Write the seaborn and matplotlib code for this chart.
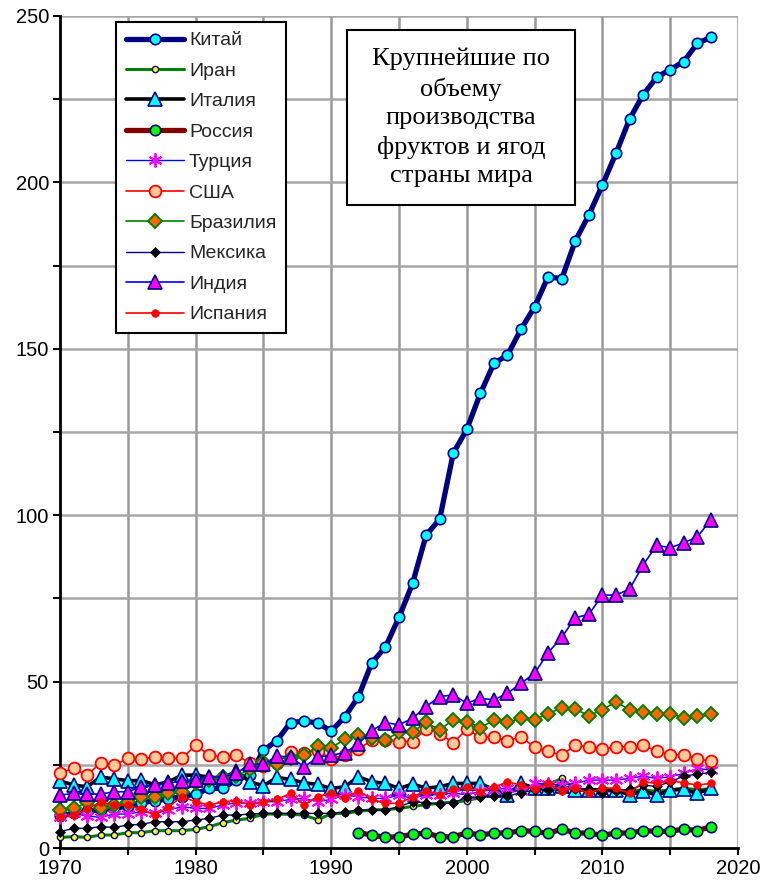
import numpy as np
import pandas as pd
import matplotlib
matplotlib.use("Agg")
import matplotlib.pyplot as plt
from matplotlib.patches import Rectangle
import seaborn as sns

years = list(range(1970, 2019))

china = [9.5, 10.5, 11.0, 11.5, 12.0, 12.5, 13.6, 14.2, 14.8, 15.4,
         16.2, 17.9, 17.9, 20.5, 21.9, 29.3, 32.3, 37.7, 38.1, 37.6,
         35.1, 39.4, 45.4, 55.7, 60.4, 69.3, 79.5, 94.0, 98.8, 118.6,
         125.8, 136.6, 145.6, 148.1, 155.9, 162.6, 171.7, 171.0, 182.4, 190.2,
         199.2, 208.7, 219.0, 226.3, 231.6, 233.9, 236.3, 241.8, 243.6]
iran = [3.2, 3.4, 3.2, 3.9, 3.9, 4.6, 4.6, 5.2, 5.2, 5.2,
        5.6, 6.4, 7.6, 8.4, 8.9, 10.2, 10.2, 10.1, 9.9, 8.5,
        10.3, 10.4, 11.0, 11.5, 11.5, 11.9, 12.5, 13.0, 13.5, 13.8,
        14.2, 15.2, 16.0, 16.8, 17.5, 18.5, 19.0, 20.9, 17.5, 17.2,
        17.5, 17.5, 17.0, 17.5, 17.0, 17.5, 18.0, 17.5, 17.8]
italy = [20.2, 18.9, 18.4, 21.3, 20.8, 20.2, 20.3, 19.0, 19.9, 21.9,
         21.9, 21.3, 21.0, 23.1, 19.9, 18.7, 21.2, 20.6, 19.6, 19.1,
         17.9, 18.4, 21.4, 19.9, 19.4, 17.9, 19.2, 18.0, 18.4, 19.4,
         19.4, 19.4, 17.5, 16.0, 19.4, 18.0, 18.0, 18.5, 17.5, 17.5,
         17.5, 17.5, 15.9, 17.1, 15.9, 17.4, 17.6, 16.4, 17.9]
russia = [np.nan] * 22 + [
          4.6, 3.9, 3.2, 3.4, 4.1, 4.5, 3.4, 3.3,
          4.6, 3.9, 4.5, 4.5, 5.2, 5.0, 4.4, 5.7, 4.5, 4.5,
          3.8, 4.5, 4.5, 5.2, 5.0, 5.0, 5.7, 5.2, 6.4]
turkey = [9.4, 10.4, 9.6, 9.2, 10.2, 10.2, 10.9, 10.4, 11.4, 12.4,
          11.9, 11.9, 12.9, 13.6, 13.4, 13.9, 13.9, 14.6, 14.9, 13.9,
          14.6, 15.9, 15.4, 14.9, 14.9, 15.9, 14.9, 16.0, 16.0, 16.5,
          16.0, 17.0, 17.5, 18.0, 17.0, 19.4, 19.2, 19.0, 19.4, 20.4,
          20.4, 20.4, 20.9, 21.6, 20.9, 21.4, 22.4, 23.9, 23.4]
usa = [22.6, 23.9, 21.9, 25.6, 24.9, 26.9, 26.7, 27.4, 26.9, 26.9,
       30.9, 27.9, 27.4, 27.8, 25.6, 24.6, 25.6, 28.8, 28.6, 29.2,
       26.8, 27.9, 29.7, 32.4, 32.5, 32.0, 32.0, 35.8, 34.4, 31.6,
       35.7, 33.3, 33.4, 32.1, 33.5, 30.2, 29.1, 27.8, 31.0, 30.3,
       29.8, 30.4, 30.4, 31.0, 29.0, 28.0, 28.0, 26.7, 26.1]
brazil = [11.4, 11.9, 13.7, 11.9, 12.9, 13.9, 15.4, 15.4, 16.6, 16.9,
          19.4, 20.4, 21.2, 21.6, 23.6, 25.9, 25.2, 27.0, 28.0, 30.5,
          30.1, 32.7, 33.9, 33.0, 32.5, 34.8, 34.8, 37.8, 35.4, 38.6,
          38.0, 36.1, 38.5, 37.8, 39.0, 38.5, 40.4, 42.1, 41.7, 39.8,
          41.5, 44.0, 41.5, 40.8, 40.3, 40.3, 39.2, 39.8, 40.3]
mexico = [4.9, 5.9, 5.9, 6.4, 6.2, 6.9, 7.1, 7.9, 7.9, 7.9,
          8.4, 8.9, 9.9, 9.9, 10.2, 10.4, 10.4, 10.4, 10.4, 10.4,
          10.4, 10.9, 11.4, 11.4, 11.4, 12.4, 13.9, 13.6, 13.2, 13.6,
          15.2, 15.4, 15.7, 15.6, 16.6, 17.4, 17.4, 17.4, 17.8, 17.6,
          16.6, 17.2, 17.6, 18.9, 18.5, 19.9, 21.6, 22.2, 22.7]
india = [15.9, 16.4, 16.2, 16.2, 16.9, 16.9, 18.4, 18.9, 19.4, 20.2,
         20.4, 21.4, 21.4, 22.4, 25.2, 25.2, 27.6, 27.4, 24.4, 27.2,
         27.9, 28.6, 31.3, 35.3, 37.7, 37.0, 39.0, 42.5, 45.5, 46.0,
         43.5, 45.0, 44.5, 46.5, 49.5, 52.5, 58.7, 63.3, 69.2, 70.2,
         76.0, 76.0, 77.8, 85.0, 91.0, 90.2, 91.7, 93.5, 98.6]
spain = [9.4, 9.9, 11.6, 13.9, 12.9, 12.9, 11.6, 9.9, 12.4, 15.4,
         13.9, 12.9, 13.9, 14.2, 12.9, 13.9, 14.6, 16.4, 12.9, 15.4,
         16.6, 14.9, 17.2, 14.6, 13.4, 13.4, 15.4, 17.1, 15.9, 17.6,
         18.2, 16.9, 18.2, 19.9, 18.9, 17.6, 19.4, 17.1, 18.1, 16.4,
         18.1, 17.9, 16.4, 19.9, 19.4, 20.2, 19.6, 18.9, 19.4]

countries = ["Китай", "Иран", "Италия", "Россия", "Турция",
             "США", "Бразилия", "Мексика", "Индия", "Испания"]
series = [china, iran, italy, russia, turkey, usa, brazil, mexico, india, spain]

note_lines = ["Крупнейшие по", "объему", "производства",
              "фруктов и ягод", "страны мира"]
x_ticks = [1970, 1980, 1990, 2000, 2010, 2020]
y_ticks = [0, 50, 100, 150, 200, 250]

df = pd.DataFrame({"year": years})
for name, vals in zip(countries, series):
    df[name] = vals
long = df.melt(id_vars="year", var_name="country", value_name="value")

styles = {
    "Китай":   dict(color="#000080", lw=3.8, marker="o", ms=7.5, mfc="#00FFFF", mec="#000080", mew=1.2),
    "Иран":    dict(color="#008000", lw=2.2, marker="o", ms=4.5, mfc="#FFFF00", mec="#000080", mew=1.0),
    "Италия":  dict(color="#000000", lw=2.6, marker="^", ms=9.5, mfc="#00FFFF", mec="#000080", mew=1.2),
    "Россия":  dict(color="#800000", lw=3.8, marker="o", ms=7.5, mfc="#00FF00", mec="#000080", mew=1.2),
    "Турция":  dict(color="#0000FF", lw=1.0, marker=(6, 2, 0), ms=10, mfc="#FF00FF", mec="#FF00FF", mew=1.4),
    "США":     dict(color="#FF0000", lw=1.2, marker="o", ms=8.5, mfc="#FFCC99", mec="#FF0000", mew=1.3),
    "Бразилия": dict(color="#008000", lw=1.2, marker="D", ms=7.5, mfc="#FF6600", mec="#008000", mew=1.4),
    "Мексика": dict(color="#000080", lw=1.0, marker="D", ms=5.5, mfc="#000000", mec="#000000", mew=0.5),
    "Индия":   dict(color="#0000FF", lw=1.2, marker="^", ms=9.5, mfc="#FF00FF", mec="#000080", mew=1.2),
    "Испания": dict(color="#FF0000", lw=1.2, marker="o", ms=5.5, mfc="#FF0000", mec="#FF0000", mew=0.5),
}

sns.set_theme(style="white")
plt.rcParams["font.family"] = ["Liberation Sans", "DejaVu Sans"]

W, H = 762, 886
fig = plt.figure(figsize=(W / 100, H / 100), dpi=100)
L, R, T, B = 60, 738, 16, 848
ax = fig.add_axes([L / W, 1 - B / H, (R - L) / W, (B - T) / H])

for name in countries:
    sub = long[long["country"] == name].dropna()
    st = styles[name]
    sns.lineplot(data=sub, x="year", y="value", ax=ax, estimator=None,
                 errorbar=None, label=name, color=st["color"], linewidth=st["lw"],
                 marker=st["marker"], markersize=st["ms"],
                 markerfacecolor=st["mfc"], markeredgecolor=st["mec"],
                 markeredgewidth=st["mew"], clip_on=False, zorder=3)

ax.set_xlim(1970, 2020)
ax.set_ylim(0, 250)
ax.set_xticks(x_ticks)
ax.set_xticks(range(1975, 2020, 10), minor=True)
ax.set_yticks(y_ticks)
ax.set_yticks(range(25, 250, 50), minor=True)
ax.set_xticklabels([str(v) for v in x_ticks])
ax.set_yticklabels([str(v) for v in y_ticks])
ax.set_xlabel("")
ax.set_ylabel("")

for xv in range(1975, 2021, 5):
    ax.axvline(xv, color="#999999", lw=1.8, zorder=1)
for yv in range(25, 251, 25):
    ax.axhline(yv, color="#a6a6a6", lw=1.8, zorder=1)

for s in ["top", "right"]:
    ax.spines[s].set_visible(False)
for s in ["left", "bottom"]:
    ax.spines[s].set_color("black")
    ax.spines[s].set_linewidth(2.0)
    ax.spines[s].set_zorder(2)

ax.tick_params(axis="both", which="both", direction="out", length=5, width=1.5,
               color="black", labelsize=14.5, labelcolor="black")
ax.tick_params(axis="x", which="both", bottom=True, pad=3)
ax.tick_params(axis="y", which="both", left=True, pad=3)

leg = ax.legend(loc="upper left", bbox_to_anchor=((116 - L) / (R - L), 1 - (22 - T) / (B - T)),
                fontsize=14, frameon=True, fancybox=False, framealpha=1,
                edgecolor="black", handlelength=3.0, handletextpad=0.25,
                labelspacing=0.66, borderpad=0.5, borderaxespad=0, numpoints=1)
leg.get_frame().set_linewidth(1.5)
leg.set_zorder(5)

# note box
bx0, by0, bx1, by1 = 347, 30, 575, 205
fig.patches.append(Rectangle((bx0 / W, 1 - by1 / H), (bx1 - bx0) / W, (by1 - by0) / H,
                             transform=fig.transFigure, facecolor="white",
                             edgecolor="black", lw=1.5, zorder=6))
fig.text((bx0 + bx1) / 2 / W, 1 - (by0 + by1) / 2 / H, "\n".join(note_lines),
         ha="center", va="center", fontsize=19, linespacing=1.38,
         family=["Liberation Serif", "DejaVu Serif"], color="black", zorder=7)

fig.savefig("out.png", dpi=100, facecolor="white")
